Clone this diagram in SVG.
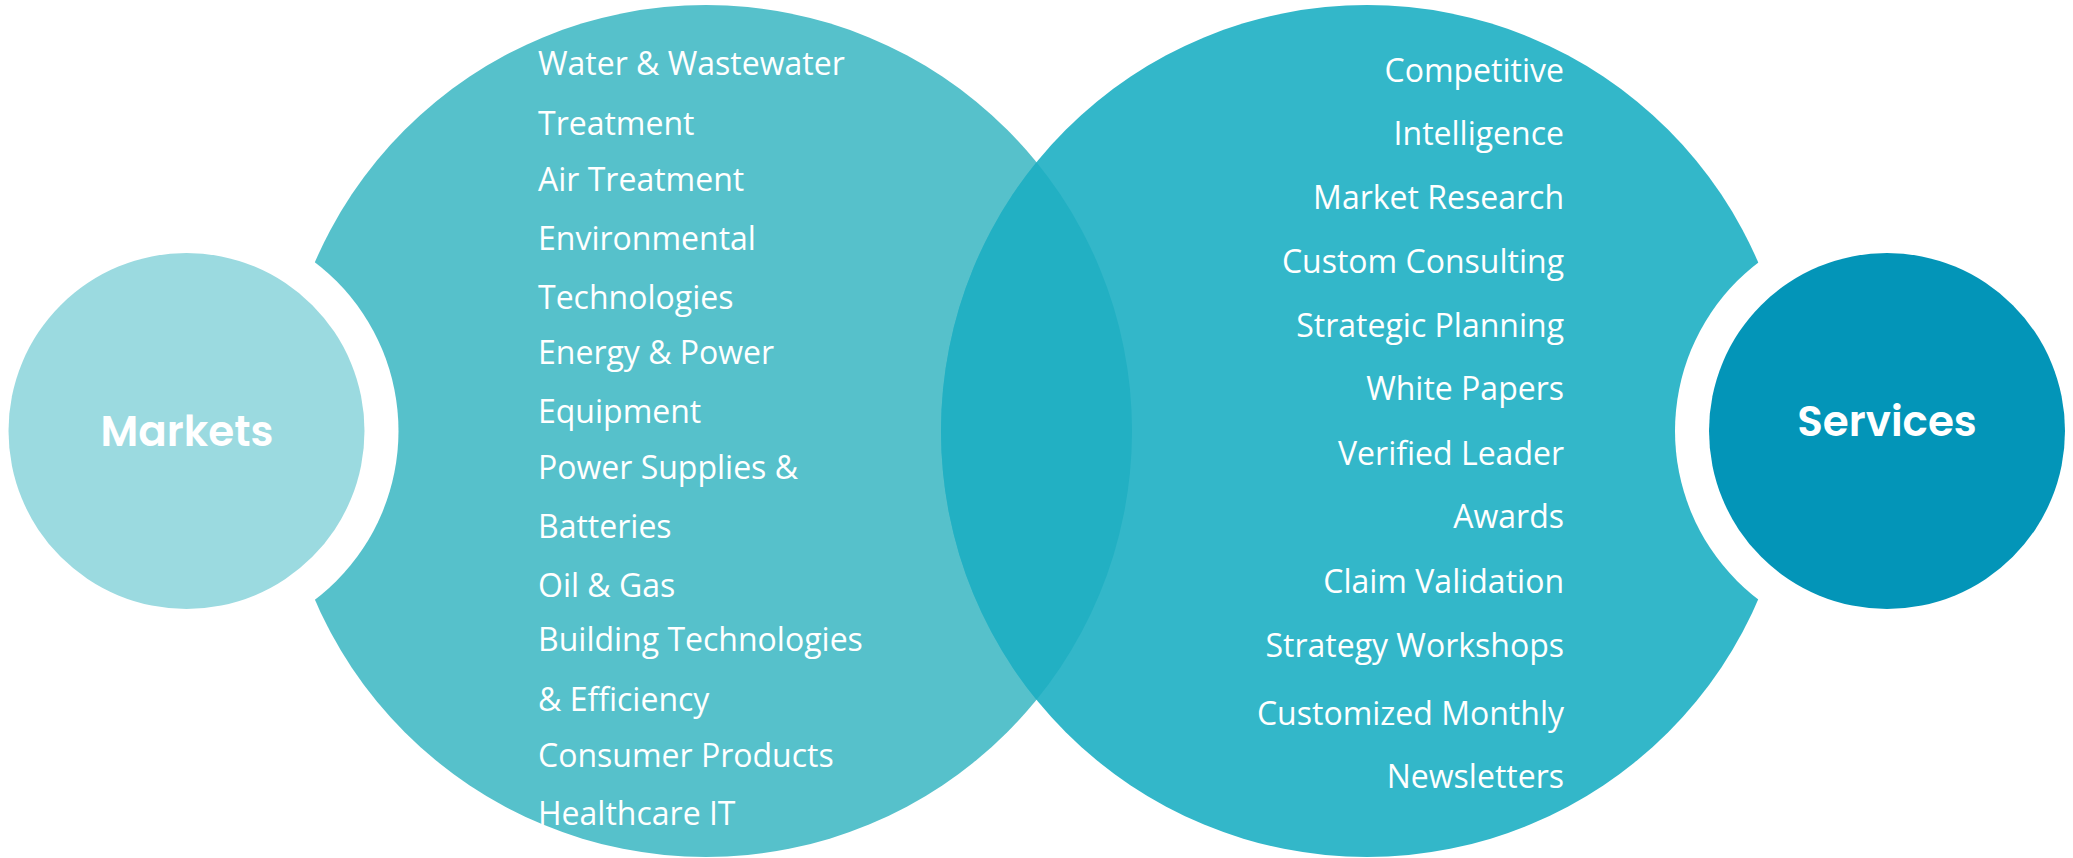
<svg xmlns="http://www.w3.org/2000/svg" width="2073" height="858" viewBox="0 0 2073 858">
  <style>
    .item { font-family: "Open Sans", "Noto Sans", sans-serif; font-size: 32px; fill: #ffffff; }
    .left { text-anchor: start; }
    .right { text-anchor: end; }
    .title { font-family: "Poppins", "Inter", "Noto Sans", sans-serif; font-weight: 600; font-size: 42px; fill: #ffffff; text-anchor: middle; }
  </style>
  <defs>
    <clipPath id="clipMarketsArea">
      <circle cx="706" cy="431" r="426"/>
    </clipPath>
  </defs>
  <rect width="2073" height="858" fill="#ffffff"/>

  <!-- large overlapping circles -->
  <g id="markets-area">
    <circle cx="706" cy="431" r="426" fill="#56C1CB"/>
  </g>
  <g id="services-area">
    <circle cx="1367" cy="431" r="426" fill="#33B7C9"/>
  </g>
  <g id="overlap">
    <circle cx="1367" cy="431" r="426" fill="#22B0C3" clip-path="url(#clipMarketsArea)"/>
  </g>

  <!-- white gaps around the end caps -->
  <circle cx="186.5" cy="431" r="212" fill="#ffffff"/>
  <circle cx="1887" cy="431" r="212" fill="#ffffff"/>

  <g id="markets">
    <circle cx="186.5" cy="431" r="178" fill="#9BDAE0"/>
    <text class="title" x="187" y="446">Markets</text>
  </g>
  <g id="services">
    <circle cx="1887" cy="431" r="178" fill="#0395B8"/>
    <text class="title" x="1887" y="436">Services</text>
  </g>

  <g id="markets-list">
    <text class="item left" x="538" y="75">Water &amp; Wastewater</text>
    <text class="item left" x="538" y="135">Treatment</text>
    <text class="item left" x="538" y="191">Air Treatment</text>
    <text class="item left" x="538" y="250">Environmental</text>
    <text class="item left" x="538" y="309">Technologies</text>
    <text class="item left" x="538" y="364">Energy &amp; Power</text>
    <text class="item left" x="538" y="423">Equipment</text>
    <text class="item left" x="538" y="479">Power Supplies &amp;</text>
    <text class="item left" x="538" y="538">Batteries</text>
    <text class="item left" x="538" y="597">Oil &amp; Gas</text>
    <text class="item left" x="538" y="651">Building Technologies</text>
    <text class="item left" x="538" y="711">&amp; Efficiency</text>
    <text class="item left" x="538" y="767">Consumer Products</text>
    <text class="item left" x="538" y="825">Healthcare IT</text>
  </g>

  <g id="services-list">
    <text class="item right" x="1564" y="82">Competitive</text>
    <text class="item right" x="1564" y="145">Intelligence</text>
    <text class="item right" x="1564" y="209">Market Research</text>
    <text class="item right" x="1564" y="273">Custom Consulting</text>
    <text class="item right" x="1564" y="337">Strategic Planning</text>
    <text class="item right" x="1564" y="400">White Papers</text>
    <text class="item right" x="1564" y="465">Verified Leader</text>
    <text class="item right" x="1564" y="528">Awards</text>
    <text class="item right" x="1564" y="593">Claim Validation</text>
    <text class="item right" x="1564" y="657">Strategy Workshops</text>
    <text class="item right" x="1564" y="725">Customized Monthly</text>
    <text class="item right" x="1564" y="788">Newsletters</text>
  </g>
</svg>
